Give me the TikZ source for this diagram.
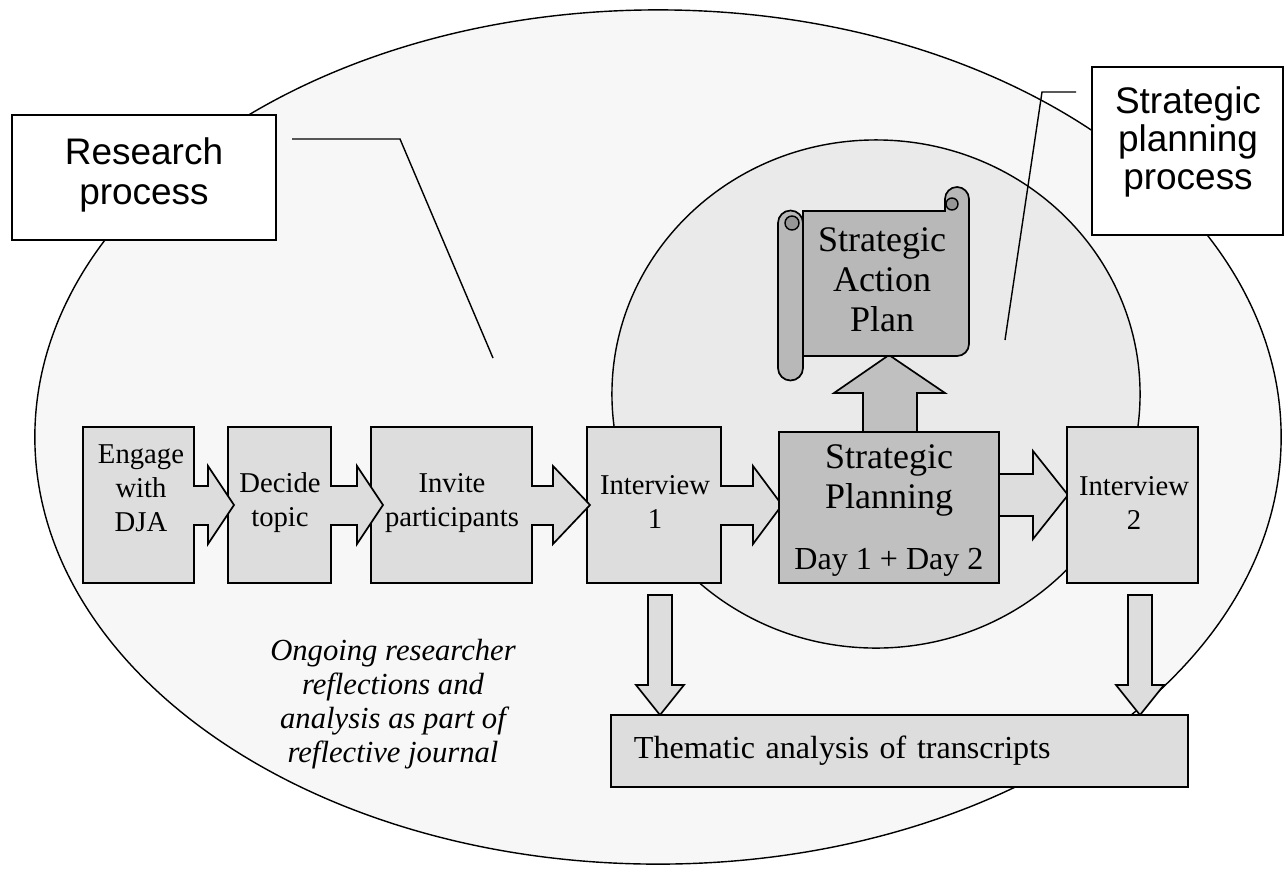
\documentclass[tikz,border=0pt]{standalone}
\usepackage{fontspec}
\setmainfont{Liberation Serif}
\newfontfamily\arialfont{Liberation Sans}
\usepackage{tikz}

\definecolor{aussen}{HTML}{F7F7F7}
\definecolor{innen}{HTML}{EAEAEA}
\definecolor{hellgrau}{HTML}{DDDDDD}
\definecolor{mittelgrau}{HTML}{C0C0C0}
\definecolor{rollengrau}{HTML}{B8B8B8}
\definecolor{dunkelgrau}{HTML}{969696}

\begin{document}
\begin{tikzpicture}
		[
		x=0.025cm, y=-0.025cm, scale=1.0, font=\fontsize{20.4}{24.2}\selectfont, >=latex,
		%Stile für Kästen und Texte
		kasten/.style={draw, line width=1.2pt, fill=hellgrau},
		dunkel/.style={draw, line width=1.2pt, fill=mittelgrau},
		rolle/.style={draw, line width=1.2pt, fill=rollengrau},
		etikett/.style={draw, line width=1pt, fill=white, inner sep=0pt},
		fuehrung/.style={line width=1pt},
		kastentext/.style={align=center, inner sep=0pt, font=\fontsize{20.4}{24.2}\selectfont},
		grosstext/.style={align=center, inner sep=0pt, font=\fontsize{25.6}{28.5}\selectfont},
		etikettext/.style={align=center, inner sep=0pt, font=\arialfont\fontsize{26.3}{27}\selectfont}
		]
		
		%Hintergrund
		\fill [white] (0,0) rectangle (1285,871);
		\useasboundingbox (0,0) rectangle (1285,871);
		
		%Ellipsen der beiden Prozesse
		\filldraw [fill=aussen, line width=1pt] (658,437) ellipse [x radius=15.575cm, y radius=10.675cm];
		\filldraw [fill=innen, line width=1pt] (876,394) ellipse [x radius=6.6cm, y radius=6.35cm];
		
		%Führungslinien der Beschriftungen
		\coordinate (rp-a) at (292,139);
		\coordinate (rp-b) at (400,139);
		\coordinate (rp-c) at (493,358);
		\draw [fuehrung] (rp-a) -- (rp-b) -- (rp-c);
		\coordinate (spp-a) at (1076,92);
		\coordinate (spp-b) at (1042,92);
		\coordinate (spp-c) at (1005,340);
		\draw [fuehrung] (spp-a) -- (spp-b) -- (spp-c);
		
		%Beschriftungen
		\node (research) [etikett, minimum width=6.6cm, minimum height=3.125cm] at (144,177.5) {};
		\node (researchtext) [etikettext, font=\arialfont\fontsize{26.3}{29}\selectfont] at (144,175) {Research\\process};
		\node (spp) [etikett, minimum width=4.775cm, minimum height=4.2cm] at (1187.5,151) {};
		\node (spptext) [etikettext] at (1188,142) {Strategic\\planning\\process};
		
		%Kästen mit Pfeil nach rechts
		\foreach \links/\rechts/\kerbe/\spitze in {587/721/753/782, 371/532/553/590, 228/331/357/383, 83/194/208/234}
		\filldraw [kasten] (\links,427) -- (\rechts,427) -- (\rechts,486) -- (\kerbe,486) -- (\kerbe,466) -- (\spitze,505) -- (\kerbe,544) -- (\kerbe,525) -- (\rechts,525) -- (\rechts,583) -- (\links,583) -- cycle;
		
		%Pfeil nach rechts zu Interview 2
		\filldraw [kasten] (999,474) -- (1033,474) -- (1033,451) -- (1068,495) -- (1033,539) -- (1033,516) -- (999,516) -- cycle;
		%Pfeil nach oben zum Aktionsplan
		\filldraw [dunkel] (863,432) -- (863,393) -- (834,393) -- (889,355) -- (945,393) -- (917,393) -- (917,432) -- cycle;
		%Strategische Planung und Interview 2
		\node (planning) [dunkel, minimum width=5.5cm, minimum height=3.775cm, inner sep=0pt] at (889,507.5) {};
		\node (interview2) [kasten, minimum width=3.275cm, minimum height=3.9cm, inner sep=0pt] at (1132.5,505) {};
		
		%Schriftrolle
		\filldraw [rolle] (803,211) -- (945,211) -- (945,199) arc [start angle=180, end angle=360, radius=12] -- (969,344) arc [start angle=0, end angle=90, radius=12] -- (803,356) -- cycle;
		\filldraw [fill=dunkelgrau, line width=1pt] (952,204) circle [radius=6];
		\filldraw [rolle] (803,223) -- (803,368) arc [start angle=0, end angle=180, radius=12.5] -- (778,223) arc [start angle=180, end angle=360, radius=12.5] -- cycle;
		\filldraw [fill=dunkelgrau, line width=1pt] (792,223) circle [radius=7];
		
		%Pfeile nach unten zur Analyse
		\foreach \mitte in {660,1140}
		\filldraw [kasten] (\mitte-12,595) -- (\mitte+12,595) -- (\mitte+12,685) -- (\mitte+24,685) -- (\mitte,715) -- (\mitte-24,685) -- (\mitte-12,685) -- cycle;
		\node (thematic) [kasten, text width=13.275cm, inner xsep=0.575cm, inner ysep=0pt, minimum height=1.8cm, align=left, font=\fontsize{22.8}{27}\selectfont] at (899.5,751) {Thematic analysis of transcripts};
		
		%Texte
		\node (engage) [kastentext] at (141,488) {Engage\\with\\DJA};
		\node (decide) [kastentext] at (280,503) {Decide\\topic};
		\node (invite) [kastentext] at (452,503) {Invite\\participants};
		\node (interview1) [kastentext] at (655,502) {Interview\\1};
		\node (interview2text) [kastentext] at (1134,503) {Interview\\2};
		\node (planningtext) [grosstext] at (889,480) {Strategic\\Planning};
		\node (days) [kastentext, font=\fontsize{22.8}{27}\selectfont] at (889,562) {Day 1 + Day 2};
		\node (plan) [grosstext] at (882,280) {Strategic\\Action\\Plan};
		\node (journal) [align=center, inner sep=0pt, font=\itshape\fontsize{21.8}{24.2}\selectfont] at (393,704) {Ongoing researcher\\reflections and\\analysis as part of\\reflective journal};
	\end{tikzpicture}
\end{document}
